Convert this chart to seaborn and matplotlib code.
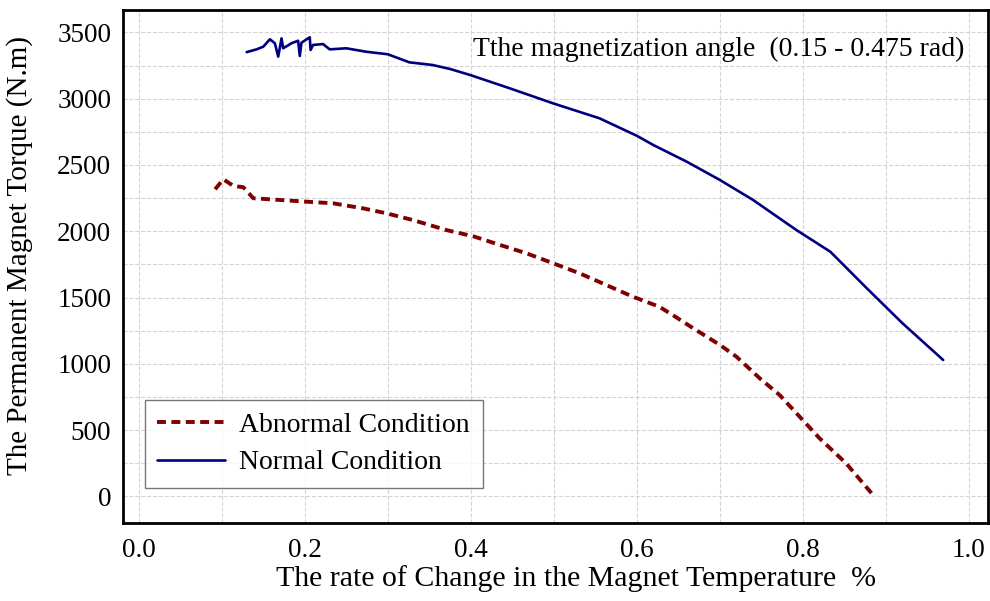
import numpy as np
import pandas as pd
import matplotlib
matplotlib.use("Agg")
import matplotlib.pyplot as plt
import seaborn as sns
from matplotlib.ticker import MultipleLocator

# Curva en condicion normal (azul)
normal_x = [0.130, 0.142, 0.150, 0.158, 0.164, 0.168, 0.172, 0.174, 0.184, 0.192,
            0.194, 0.196, 0.206, 0.207, 0.210, 0.222, 0.230, 0.250, 0.274, 0.300,
            0.326, 0.354, 0.375, 0.399, 0.447, 0.499, 0.555, 0.600, 0.620, 0.660,
            0.700, 0.740, 0.792, 0.833, 0.877, 0.920, 0.969]
normal_y = [3351, 3372, 3392, 3448, 3418, 3317, 3455, 3380, 3418, 3437,
            3322, 3422, 3463, 3367, 3405, 3412, 3372, 3380, 3354, 3335,
            3274, 3254, 3224, 3179, 3078, 2965, 2852, 2720, 2650, 2525,
            2387, 2236, 2010, 1846, 1570, 1306, 1029]

# Curva en condicion anormal (roja, discontinua)
abnormal_x = [0.092, 0.102, 0.114, 0.126, 0.138, 0.170, 0.202, 0.234, 0.270, 0.298,
              0.330, 0.370, 0.403, 0.435, 0.467, 0.499, 0.531, 0.563, 0.595, 0.627,
              0.643, 0.668, 0.700, 0.720, 0.748, 0.772, 0.796, 0.820, 0.852, 0.886]
abnormal_y = [2317, 2392, 2342, 2332, 2249, 2236, 2223, 2211, 2173, 2136,
              2085, 2010, 1962, 1897, 1834, 1759, 1683, 1595, 1507, 1431,
              1369, 1268, 1143, 1054, 891, 765, 602, 439, 250, 0]

df_normal = pd.DataFrame({"x": normal_x, "y": normal_y})
df_abnormal = pd.DataFrame({"x": abnormal_x, "y": abnormal_y})

sns.set_style("white")
plt.rcParams['font.family'] = ['Liberation Serif', 'DejaVu Serif']
plt.rcParams['text.color'] = 'black'
plt.rcParams['axes.labelcolor'] = 'black'

fig = plt.figure(figsize=(9.9, 6.01), dpi=100)
ax = fig.add_axes([0.1242, 0.1303, 0.8738, 0.8531])

sns.lineplot(data=df_abnormal, x="x", y="y", ax=ax, color="#7f0000", linewidth=2.8,
             linestyle=(0, (2.3, 1.4)), estimator=None, sort=False, label="Abnormal Condition")
sns.lineplot(data=df_normal, x="x", y="y", ax=ax, color="#00007f", linewidth=1.9,
             estimator=None, sort=False, label="Normal Condition")

ax.set_xlim(-0.019, 1.023)
ax.set_ylim(-198, 3669)
ax.xaxis.set_major_locator(MultipleLocator(0.2))
ax.xaxis.set_minor_locator(MultipleLocator(0.1))
ax.yaxis.set_major_locator(MultipleLocator(500))
ax.yaxis.set_minor_locator(MultipleLocator(250))
ax.xaxis.set_major_formatter(matplotlib.ticker.FormatStrFormatter('%.1f'))

ax.grid(True, which='both', linestyle='--', color='#d4d4d4', linewidth=0.8)
ax.set_axisbelow(True)
for s in ax.spines.values():
    s.set_color('black')
    s.set_linewidth(2.0)
ax.tick_params(axis='both', which='major', direction='out', length=5, width=1,
               labelsize=19.5, colors='black')
ax.tick_params(axis='both', which='minor', direction='out', length=3, width=0.8)
ax.tick_params(axis='x', pad=6)

ax.set_xlabel("The rate of Change in the Magnet Temperature  %", fontsize=21.5)
ax.set_ylabel("The Permanent Magnet Torque (N.m)", fontsize=21)
ax.xaxis.set_label_coords(0.524, -0.082)
ax.yaxis.set_label_coords(-0.104, 0.522)

ax.text(0.973, 0.923, "Tthe magnetization angle  (0.15 - 0.475 rad)", transform=ax.transAxes,
        ha='right', va='center', fontsize=20)

leg = ax.legend(loc='lower left', bbox_to_anchor=(0.0254, 0.0677), fontsize=20,
                handlelength=2.45, handletextpad=0.5, frameon=True, fancybox=False,
                borderpad=0.45, labelspacing=0.45, borderaxespad=0)
leg.get_frame().set_edgecolor('#555555')
leg.get_frame().set_linewidth(1.0)

fig.savefig("out.png", dpi=100)
